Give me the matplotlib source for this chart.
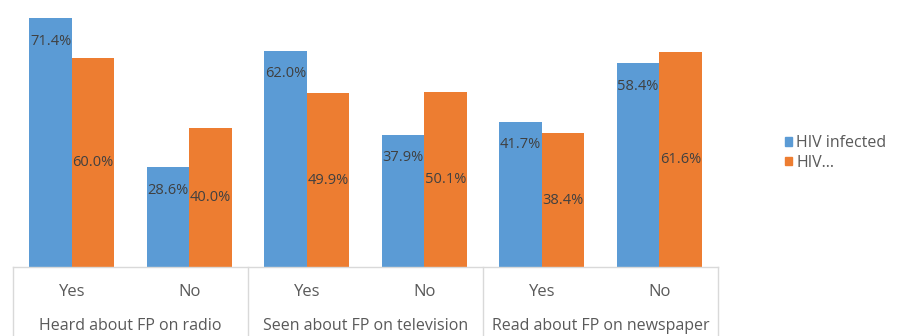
import matplotlib
matplotlib.use("Agg")
import matplotlib.pyplot as plt
from matplotlib.patches import Patch
import numpy as np

# Data
answers = ["Yes", "No", "Yes", "No", "Yes", "No"]
groups = ["Heard about FP on radio", "Seen about FP on television", "Read about FP on newspaper"]
series_names = ["HIV infected", "HIV..."]
hiv_infected = [71.4, 28.6, 62.0, 37.9, 41.7, 58.4]
hiv_other = [60.0, 40.0, 49.9, 50.1, 38.4, 61.6]

blue = "#5B9BD5"
orange = "#ED7D31"
label_col = "#404040"
axis_text_col = "#595959"
grid_col = "#D9D9D9"

plt.rcParams["font.family"] = ["Open Sans", "DejaVu Sans"]

W, H = 898, 336
fig = plt.figure(figsize=(W / 100, H / 100), dpi=100)
ax_left, ax_right, ax_bottom_px = 13, 718, 267
ax = fig.add_axes([ax_left / W, 1 - ax_bottom_px / H, (ax_right - ax_left) / W, ax_bottom_px / H])

x = np.arange(len(answers))
bw = 0.36
ax.bar(x - bw / 2, hiv_infected, bw, color=blue, label=series_names[0])
ax.bar(x + bw / 2, hiv_other, bw, color=orange, label=series_names[1])

ax.set_xlim(-0.5, len(answers) - 0.5)
ax.set_ylim(0, 76.6)
for s in ax.spines.values():
    s.set_visible(False)
ax.set_xticks([])
ax.set_yticks([])

# Value labels: inside end for blue, centred for orange
fs = 10.5
for xi, v in zip(x, hiv_infected):
    ax.annotate(f"{v:.1f}%", (xi - bw / 2, v), xytext=(0, -16.5), textcoords="offset points",
                ha="center", va="center", fontsize=fs, color=label_col)
for xi, v in zip(x, hiv_other):
    ax.text(xi + bw / 2, v / 2, f"{v:.1f}%", ha="center", va="center", fontsize=fs, color=label_col)

# Multi-level category axis drawn as a table
tr = ax.get_xaxis_transform()
ax.plot([-0.5, len(answers) - 0.5], [0, 0], color=grid_col, lw=1, transform=tr, clip_on=False)
axh = ax_bottom_px
for xb in [-0.5, 1.5, 3.5, 5.5]:
    ax.plot([xb, xb], [0, -(H - axh) / axh], color=grid_col, lw=1, transform=tr, clip_on=False)
for xi, a in zip(x, answers):
    ax.text(xi, -25 / axh, a, ha="center", va="center", fontsize=12, color=axis_text_col, transform=tr)
for gi, g in enumerate(groups):
    ax.text(2 * gi + 0.5, -59 / axh, g, ha="center", va="center", fontsize=11.5,
            color=axis_text_col, transform=tr)

handles = [Patch(color=blue, label=series_names[0]), Patch(color=orange, label=series_names[1])]
fig.legend(handles=handles, loc="center left", bbox_to_anchor=(785 / W, 1 - 153 / H),
           frameon=False, fontsize=11.5, handlelength=0.45, handleheight=0.45, handletextpad=0.25,
           labelspacing=0.2, labelcolor=axis_text_col, borderaxespad=0, borderpad=0)

fig.savefig("out.png", dpi=100)
